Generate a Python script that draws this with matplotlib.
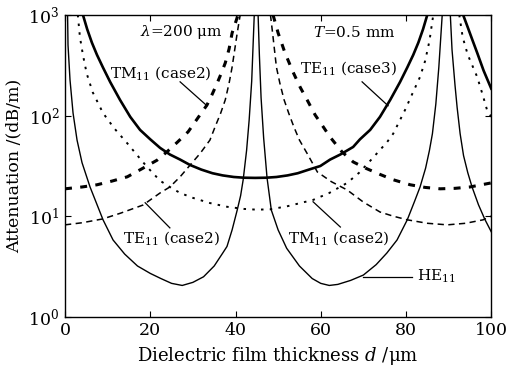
import numpy as np
import matplotlib.pyplot as plt

plt.rcParams['font.family'] = ['DejaVu Serif']
plt.rcParams['mathtext.fontset'] = 'dejavuserif'
plt.rcParams['lines.scale_dashes'] = False

## Curve data: film thickness d (um) and attenuation (dB/m) ##

# HE11, three branches between the resonances
he11_d1 = [0.6, 0.7, 1.17, 1.88, 2.82, 3.99, 5.87, 8.92, 11.27, 14, 17, 20, 22.5, 25, 27.5,
           30, 32.5, 35, 37, 38, 39.2, 40.4, 41.2, 41.8, 42.6, 43.2, 43.8, 44.4]
he11_a1 = [1000, 502, 226, 106, 57, 34, 19.5, 9.2, 5.8, 4.2, 3.2, 2.7, 2.4, 2.15, 2.05,
           2.2, 2.5, 3.2, 4.3, 5.0, 7.3, 11.5, 16, 23, 45, 90, 220, 1000]
he11_d2 = [45.3, 45.6, 46.0, 46.6, 47.4, 48.4, 50, 52, 55, 58, 60, 62, 64, 67, 70, 73,
           75.5, 77.9, 80.3, 82, 83.3, 84.6, 85.5, 86.2, 87, 87.7, 88.5]
he11_a2 = [1000, 400, 150, 60, 24, 11.5, 7.3, 4.8, 3.2, 2.4, 2.15, 2.05, 2.1, 2.3, 2.6, 3.3,
           4.3, 5.8, 9.2, 14, 19.5, 30, 45, 66, 130, 300, 1000]
he11_d3 = [90.4, 90.8, 91.5, 92.0, 92.7, 93.5, 94.5, 95.5, 97, 98.5, 100]
he11_a3 = [1000, 450, 200, 120, 66, 40, 27, 19.5, 13, 9.3, 7.0]

# TE11 (case3), thick solid
te3_d1 = [4.2, 5.2, 6.3, 7.5, 8.9, 10.6, 12.9, 15.3, 17.6, 20, 22.3, 24.6, 27, 29.3, 32,
          34.6, 37, 39.6, 42, 44.6, 47.2, 49.6, 52.2, 54.6, 57.2, 59.9, 62.2, 64.6, 67.6,
          69.2, 71.6, 73.9, 76.3, 78.6, 80.3, 81.7, 82.9, 84, 85]
te3_a1 = [1000, 720, 530, 400, 300, 215, 143, 97, 72, 58, 47.7, 41, 36.5, 32.3, 29,
          26.7, 25.4, 24.5, 24.1, 24, 24.1, 24.5, 25.4, 26.7, 29, 31.5, 36.5, 41, 48.7,
          58, 72, 97, 143, 215, 300, 400, 530, 720, 1000]
te3_d2 = [93.4, 94.5, 95.6, 96.7, 98.2, 100]
te3_a2 = [1000, 750, 560, 420, 280, 185]

# TM11 (case2), thick dashed
tm2a_d1 = [0, 4, 7.5, 11, 14.6, 18, 21.6, 23.9, 26.5, 28.9, 31.2, 33.3, 34.6, 35.7, 36.7,
           37.6, 38.5, 39.2, 40.6]
tm2a_a1 = [18.7, 19.5, 20.5, 22.3, 24.6, 29.5, 36, 43.5, 55, 69, 95, 127, 165, 210, 265,
           333, 460, 660, 1000]
tm2a_d2 = [48.8, 50, 51.6, 53.5, 55.2, 56.8, 58.7, 60.6, 62.2, 65, 67.6, 70.5, 73.9, 77,
           81, 84.5, 88, 91.5, 95, 100]
tm2a_a2 = [1000, 660, 420, 270, 190, 143, 101, 77, 61, 43.5, 34.6, 30, 26, 23,
           20.5, 19.3, 18.7, 18.9, 19.5, 21.4]

# TE11 (case2), thin dashed
te2_d1 = [0, 4, 8.9, 13, 18.3, 22.3, 24.6, 27, 29.3, 31.7, 34, 35.2, 36.5, 37.6, 38.5,
          39.2, 40.4, 41.1]
te2_a1 = [8.2, 8.6, 9.4, 10.7, 12.9, 17, 19.5, 24.6, 32, 42, 57, 77, 105, 143, 210,
          302, 660, 1000]
te2_d2 = [48.2, 48.7, 49.6, 50.4, 51.4, 52.5, 53.7, 55, 56.8, 59.2, 62.5, 66.2, 70, 73.9,
          77, 80.3, 85, 89.7, 94, 98.1, 100]
te2_a2 = [1000, 660, 302, 210, 143, 105, 77, 57, 42, 27.5, 22, 18.2, 13.8, 11,
          10, 9.2, 8.5, 8.2, 8.5, 9.2, 10]

# TM11 (case2), thin dotted
tm2b_d1 = [3.0, 3.5, 4.2, 5.1, 6.5, 8.9, 11.5, 14.6, 17, 19.2, 22.3, 24.6, 27, 30, 34, 38,
           42, 45, 48.1, 52, 58.2, 62, 66.2, 69, 72, 75.6, 77, 79.8, 81.5, 83.3, 84.5,
           85.5, 86.4]
tm2b_a1 = [1000, 600, 400, 260, 170, 106, 75, 53, 40, 31, 22.5, 19.5, 17, 15.2, 13.5, 12.4,
           11.8, 11.6, 11.7, 12.5, 14.5, 17, 21.4, 27, 37, 54.7, 66, 114, 165, 242, 350,
           550, 1000]
tm2b_d2 = [92.5, 93.3, 94.5, 96.7, 98, 99, 100]
tm2b_a2 = [1000, 600, 400, 242, 160, 114, 97]

fig = plt.figure(figsize=(5.08, 3.71), dpi=100)
ax = fig.add_axes([0.128, 0.146, 0.839, 0.814])

thin = dict(color='black', lw=1.0)
for d, a in [(he11_d1, he11_a1), (he11_d2, he11_a2), (he11_d3, he11_a3)]:
    ax.plot(d, a, **thin)
for d, a in [(te3_d1, te3_a1), (te3_d2, te3_a2)]:
    ax.plot(d, a, color='black', lw=1.9)
for d, a in [(tm2a_d1, tm2a_a1), (tm2a_d2, tm2a_a2)]:
    ax.plot(d, a, color='black', lw=2.2, dashes=(5, 6))
for d, a in [(te2_d1, te2_a1), (te2_d2, te2_a2)]:
    ax.plot(d, a, color='black', lw=1.1, dashes=(4.5, 3.2))
for d, a in [(tm2b_d1, tm2b_a1), (tm2b_d2, tm2b_a2)]:
    ax.plot(d, a, color='black', lw=1.4, dashes=(1.8, 4.5))

ax.set_yscale('log')
ax.set_xlim(0, 100)
ax.set_ylim(1, 1000)
ax.set_xticks([0, 20, 40, 60, 80, 100])
ax.yaxis.set_minor_locator(plt.NullLocator())
ax.tick_params(direction='in', top=True, right=True, length=4, width=0.8,
               labelsize=12.5, pad=4)
for s in ax.spines.values():
    s.set_linewidth(1.0)

ax.set_xlabel('Dielectric film thickness $d$ /μm', fontsize=13, labelpad=4)
ax.set_ylabel('Attenuation /(dB/m)', fontsize=12.5, labelpad=4)

# labels and leader lines
fs = 11
ax.text(17.6, 676, r'$\lambda$=200 μm', fontsize=fs, va='center')
ax.text(58.2, 661, r'$T$=0.5 mm', fontsize=fs, va='center')
ax.text(10.6, 265, r'TM$_{11}$ (case2)', fontsize=fs, va='center')
ax.plot([27.0, 33.3], [216, 125], color='black', lw=0.9)
ax.text(55.2, 297, r'TE$_{11}$ (case3)', fontsize=fs, va='center')
ax.plot([69.7, 75.8], [216, 125], color='black', lw=0.9)
ax.text(13.6, 6.1, r'TE$_{11}$ (case2)', fontsize=fs, va='center')
ax.plot([18.8, 24.6], [13.6, 7.65], color='black', lw=0.9)
ax.text(52.3, 6.1, r'TM$_{11}$ (case2)', fontsize=fs, va='center')
ax.plot([58.2, 64.6], [13.9, 7.8], color='black', lw=0.9)
ax.text(82.6, 2.5, r'HE$_{11}$', fontsize=fs, va='center')
ax.plot([70, 81.5], [2.5, 2.5], color='black', lw=0.9)

fig.savefig('out.png', dpi=100)
